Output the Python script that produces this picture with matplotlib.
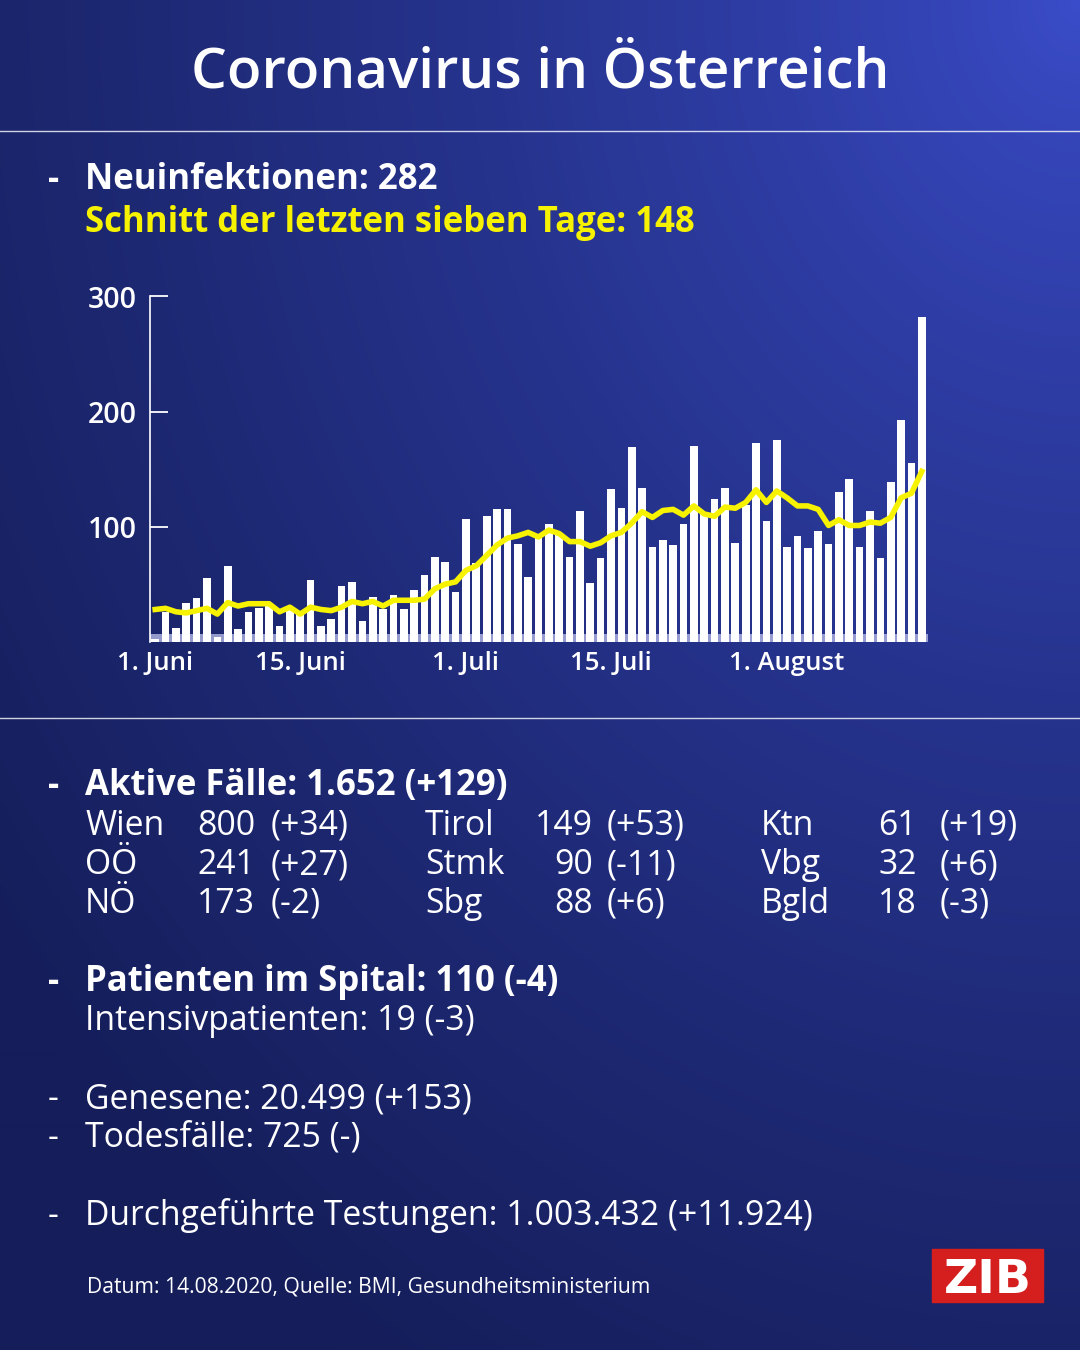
import numpy as np
import matplotlib
matplotlib.use('Agg')
import matplotlib.pyplot as plt
from matplotlib.patches import Rectangle

plt.rcParams['font.family'] = ['Open Sans', 'DejaVu Sans']

# daily new infections, 1. Juni - 14. August 2020
new_cases = [2, 26, 12, 34, 38, 55, 4, 66, 11, 26,
             29, 32, 14, 29, 25, 54, 14, 20, 48, 52,
             18, 39, 28, 41, 28, 45, 58, 74, 69, 43,
             107, 68, 109, 115, 115, 85, 56, 93, 102, 94,
             74, 114, 51, 73, 133, 116, 169, 134, 82, 88,
             84, 102, 170, 111, 124, 134, 86, 119, 173, 105,
             175, 82, 92, 81, 96, 85, 130, 141, 82, 114,
             73, 139, 193, 155, 282]
# 7-day average
avg7 = [28, 29, 26, 25, 27, 29, 24, 34, 31, 33,
        33, 33, 26, 30, 24, 30, 28, 27, 30, 35,
        33, 35, 31, 36, 36, 36, 37, 46, 50, 52,
        62, 66, 75, 84, 90, 92, 95, 91, 97, 94,
        87, 87, 83, 86, 92, 95, 103, 113, 108, 114,
        115, 110, 118, 111, 109, 117, 116, 121, 132, 121,
        131, 125, 118, 118, 115, 101, 106, 101, 101, 104,
        103, 108, 125, 129, 148]
date_ticks = [0, 14, 30, 44, 61]
date_labels = ['1. Juni', '15. Juni', '1. Juli', '15. Juli', '1. August']
y_ticks = [100, 200, 300]

# active cases by state
col1_names = ['Wien', 'OÖ', 'NÖ']
col1_vals = ['800', '241', '173']
col1_diff = ['(+34)', '(+27)', '(-2)']
col2_names = ['Tirol', 'Stmk', 'Sbg']
col2_vals = ['149', '90', '88']
col2_diff = ['(+53)', '(-11)', '(+6)']
col3_names = ['Ktn', 'Vbg', 'Bgld']
col3_vals = ['61', '32', '18']
col3_diff = ['(+19)', '(+6)', '(-3)']

W, H = 1080, 1350
fig = plt.figure(figsize=(W / 100, H / 100), dpi=100)
renderer = fig.canvas.get_renderer()


def fx(x):
    return x / W


def fy(y):
    return 1 - y / H


def fit(t, width_px):
    bb = t.get_window_extent(renderer)
    t.set_fontsize(t.get_fontsize() * width_px / bb.width)
    return t.get_fontsize()


# background gradient, bright in the upper right corner
bg = fig.add_axes([0, 0, 1, 1])
u = np.linspace(0, 1, 270)[None, :]
v = np.linspace(0, 1, 340)[:, None]
d = np.sqrt((1 - u) ** 2 + (v / 0.95) ** 2)
s = np.clip(d / 1.25, 0, 1) ** 0.75
bright = np.array([0x3b, 0x4d, 0xcb]) / 255
dark = np.array([0x15, 0x1e, 0x5a]) / 255
img = bright[None, None, :] * (1 - s[..., None]) + dark[None, None, :] * s[..., None]
bg.imshow(img, extent=[0, 1, 0, 1], aspect='auto', interpolation='bicubic')
bg.set_xlim(0, 1)
bg.set_ylim(0, 1)
bg.axis('off')

# separators
for yy in [131, 718]:
    bg.plot([0, 1], [fy(yy), fy(yy)], color='white', lw=1.0, alpha=0.8)

# title
t = fig.text(0.5, fy(88), 'Coronavirus in Österreich', color='white',
             ha='center', va='baseline', fontsize=40, fontweight='semibold')
fit(t, 696)

# bold headings
bold_size = fit(fig.text(fx(85), fy(795), 'Aktive Fälle: 1.652 (+129)', color='white',
                         va='baseline', fontsize=26, fontweight='bold'), 423)
fig.text(fx(85), fy(189), 'Neuinfektionen: 282', color='white', va='baseline',
         fontsize=bold_size, fontweight='bold')
fig.text(fx(85), fy(232), 'Schnitt der letzten sieben Tage: 148', color='#f7f300',
         va='baseline', fontsize=bold_size, fontweight='bold')
fig.text(fx(85), fy(991), 'Patienten im Spital: 110 (-4)', color='white', va='baseline',
         fontsize=bold_size, fontweight='bold')
for yy in [189, 795, 991]:
    fig.text(fx(48), fy(yy), '-', color='white', va='baseline', fontsize=bold_size,
             fontweight='bold')

# regular lines
reg_size = fit(fig.text(fx(85), fy(1225), 'Durchgeführte Testungen: 1.003.432 (+11.924)',
                        color='white', va='baseline', fontsize=24), 730)
fig.text(fx(85), fy(1030), 'Intensivpatienten: 19 (-3)', color='white', va='baseline',
         fontsize=reg_size)
fig.text(fx(85), fy(1108), 'Genesene: 20.499 (+153)', color='white', va='baseline',
         fontsize=reg_size)
fig.text(fx(85), fy(1147), 'Todesfälle: 725 (-)', color='white', va='baseline',
         fontsize=reg_size)
for yy in [1108, 1147, 1225]:
    fig.text(fx(48), fy(yy), '-', color='white', va='baseline', fontsize=reg_size)

# state table
rows_y = [835, 874, 913]
for i, yy in enumerate(rows_y):
    fig.text(fx(85), fy(yy), col1_names[i], color='white', va='baseline', fontsize=reg_size)
    fig.text(fx(197), fy(yy), col1_vals[i], color='white', va='baseline', fontsize=reg_size)
    fig.text(fx(271), fy(yy), col1_diff[i], color='white', va='baseline', fontsize=reg_size)
    fig.text(fx(425), fy(yy), col2_names[i], color='white', va='baseline', fontsize=reg_size)
    fig.text(fx(593), fy(yy), col2_vals[i], color='white', va='baseline', ha='right',
             fontsize=reg_size)
    fig.text(fx(607), fy(yy), col2_diff[i], color='white', va='baseline', fontsize=reg_size)
    fig.text(fx(761), fy(yy), col3_names[i], color='white', va='baseline', fontsize=reg_size)
    fig.text(fx(878), fy(yy), col3_vals[i], color='white', va='baseline', fontsize=reg_size)
    fig.text(fx(940), fy(yy), col3_diff[i], color='white', va='baseline', fontsize=reg_size)

# footer
fit(fig.text(fx(87), fy(1292), 'Datum: 14.08.2020, Quelle: BMI, Gesundheitsministerium',
             color='white', va='baseline', fontsize=16), 565)

# ZIB logo
bg.add_patch(Rectangle((fx(932), fy(1302)), fx(1043 - 932), (1302 - 1249) / H,
                       color='#d51f1f', zorder=5))
fig.text(fx(988), fy(1293), 'ZIB', color='white', ha='center', va='baseline',
         fontsize=34, fontweight='bold', family='DejaVu Sans', zorder=6)

# chart
ax = fig.add_axes([fx(150), fy(641.7), fx(928 - 150), (641.7 - 296.5) / H])
ax.patch.set_alpha(0)
x = np.arange(len(new_cases))
ax.axhspan(0, 7, color='#b4b8e6', alpha=0.8, lw=0, zorder=1)
ax.bar(x, new_cases, width=0.74, color='white', zorder=2)
ax.plot(x, avg7, color='#f7f300', lw=4, zorder=3)
ax.set_xlim(-0.5, 74.6)
ax.set_ylim(0, 300)
for side in ['top', 'right', 'bottom']:
    ax.spines[side].set_visible(False)
ax.spines['left'].set_color('white')
ax.spines['left'].set_linewidth(1.2)
ax.set_yticks(y_ticks)
ax.set_yticklabels([str(v) for v in y_ticks])
ax.tick_params(axis='y', direction='in', length=13, width=1.3, colors='white',
               pad=9.5, labelsize=20.5)
for lbl in ax.get_yticklabels():
    lbl.set_fontweight('semibold')
ax.set_xticks(date_ticks)
ax.set_xticklabels(date_labels)
ax.tick_params(axis='x', length=0, colors='white', pad=7, labelsize=18.5)
for lbl in ax.get_xticklabels():
    lbl.set_fontweight('semibold')

plt.savefig('out.png', dpi=100)
